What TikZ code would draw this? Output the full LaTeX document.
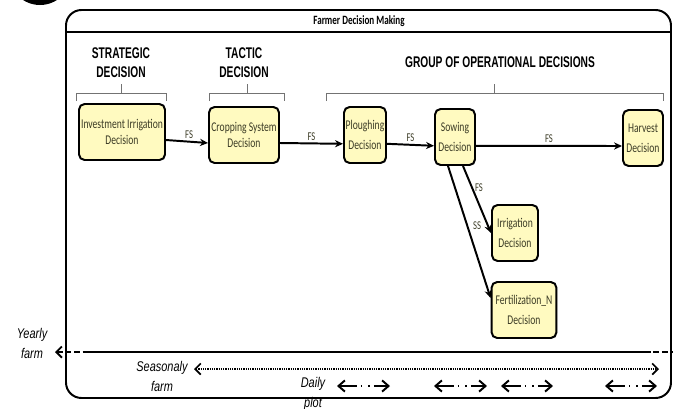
\documentclass[tikz,border=0pt]{standalone}
\usepackage{fontspec}
\newfontfamily\boxfont[FakeStretch=0.72]{Carlito}
\newfontfamily\headfont[FakeStretch=0.66]{Liberation Sans}
\newfontfamily\scalefont[FakeStretch=0.78]{Liberation Sans}
\usepackage{xcolor}
\usepackage{tikz}
\usetikzlibrary{arrows.meta,shadows}
\definecolor{boxfill}{RGB}{255,250,192}
\definecolor{boxtext}{RGB}{60,60,38}

\begin{document}
\begin{tikzpicture}[
  x=0.025cm, y=-0.025cm,
  >={Stealth[length=2mm,width=1.8mm]},
  dec/.style={draw=black,line width=1.4pt,rounded corners=4pt,fill=boxfill,text=boxtext,
    align=center,inner sep=1pt,minimum width=#1,minimum height=1.4cm,
    font=\boxfont\fontsize{9.5}{14}\selectfont,
    drop shadow={opacity=0.3,shadow xshift=0.7pt,shadow yshift=-0.7pt}},
  head/.style={font=\headfont\bfseries\fontsize{11}{13.5}\selectfont,align=center,inner sep=1pt},
  brk/.style={draw=black!55,line width=0.7pt},
  flow/.style={->,line width=1.4pt},
  lab/.style={font=\boxfont\fontsize{8.5}{9}\selectfont,text=boxtext,inner sep=1.5pt},
  tscale/.style={font=\scalefont\itshape\fontsize{10}{14.2}\selectfont,align=center,inner sep=1pt},
  yearly/.style={{Straight Barb[length=1.4mm,width=2.8mm]}-,line width=1.3pt,dash pattern=on 4pt off 2pt},
  seasonal/.style={{Straight Barb[length=1.4mm,width=2.8mm]}-{Straight Barb[length=1.4mm,width=2.8mm]},
    line width=1.2pt,dash pattern=on 0.9pt off 0.7pt},
  daily/.style={{Straight Barb[length=1.6mm,width=2.8mm]}-{Straight Barb[length=1.6mm,width=2.8mm]},
    line width=1.4pt,dash pattern=on 12.5pt off 2.8pt on 1pt off 4.3pt on 1pt off 2.8pt on 20pt}
]
\clip (0,0) rectangle (673,409);
\fill[black] (40,-26) circle (31);
\draw[line width=1.4pt,rounded corners=11pt] (66,10) rectangle (671,398);
\draw[line width=1.4pt] (66,32) -- (671,32);
\node[font=\boxfont\bfseries\fontsize{9}{10}\selectfont] (title) at (359,21) {Farmer Decision Making};

\node[head] (strat) at (121,63) {STRATEGIC\\DECISION};
\node[head] (tact) at (244,63) {TACTIC\\DECISION};
\node[head] (oper) at (500,62) {GROUP OF OPERATIONAL DECISIONS};
\draw[brk] (76,101) -- (76,93) -- (166,93) -- (166,101) (121,93) -- (121,84);
\draw[brk] (209,101) -- (209,93) -- (284,93) -- (284,101) (247,93) -- (247,84);
\draw[brk] (326,101) -- (326,93) -- (663,93) -- (663,101) (494,93) -- (494,84);

\node[dec=2.15cm] (inv) at (122,132) {Investment Irrigation\\[-3pt]Decision};
\node[dec=1.75cm] (crop) at (244,135) {Cropping System\\[-3pt]Decision};
\node[dec=1.05cm] (plough) at (365,135) {Ploughing\\Decision};
\node[dec=1cm] (sow) at (455,137) {Sowing\\Decision};
\node[dec=1cm] (harv) at (643,138) {Harvest\\Decision};
\node[dec=1.15cm] (irr) at (515,233) {Irrigation\\Decision};
\node[dec=1.62cm] (fert) at (524,310) {Fertilization\_N\\Decision};

\draw[flow] ([yshift=-2mm]inv.east) -- node[lab,above,pos=0.55]{FS} ([yshift=-2mm]crop.west);
\draw[flow] ([yshift=-2mm]crop.east) -- node[lab,above]{FS} ([yshift=-2.2mm]plough.west);
\draw[flow] ([yshift=-2.2mm]plough.east) -- node[lab,above]{FS} ([yshift=-2.2mm]sow.west);
\draw[flow] ([yshift=-2.2mm]sow.east) -- node[lab,above]{FS} ([yshift=-2mm]harv.west);
\draw[flow] ([xshift=2mm]sow.south) -- node[lab,right,pos=0.32]{FS} (irr.west);
\draw[flow] ([xshift=-1.75mm]sow.south) -- node[lab,right,pos=0.45,xshift=2pt]{SS} ([yshift=3mm]fert.west);

\node[tscale] (yr) at (32,343) {Yearly\\farm};
\node[tscale] (sea) at (162,376) {Seasonaly\\farm};
\node[tscale] (day) at (313,394) {Daily\\plot};
\coordinate (ytip) at (55,352);
\coordinate (ya) at (88,352);
\coordinate (yb) at (645,352);
\coordinate (yc) at (673,352);
\draw[yearly] (ytip) -- (ya);
\draw[line width=1.4pt] (ya) -- (yb);
\draw[line width=1.3pt,dash pattern=on 4pt off 2pt] (yb) -- (yc);
\coordinate (sl) at (194,369);
\coordinate (sr) at (659,369);
\draw[seasonal] (sl) -- (sr);
\foreach \l/\r [count=\i] in {337/390,434/487,501/553,605/657}{
  \coordinate (dl\i) at (\l,386);
  \coordinate (dr\i) at (\r,386);
  \draw[daily] (dl\i) -- (dr\i);
}
\end{tikzpicture}
\end{document}
